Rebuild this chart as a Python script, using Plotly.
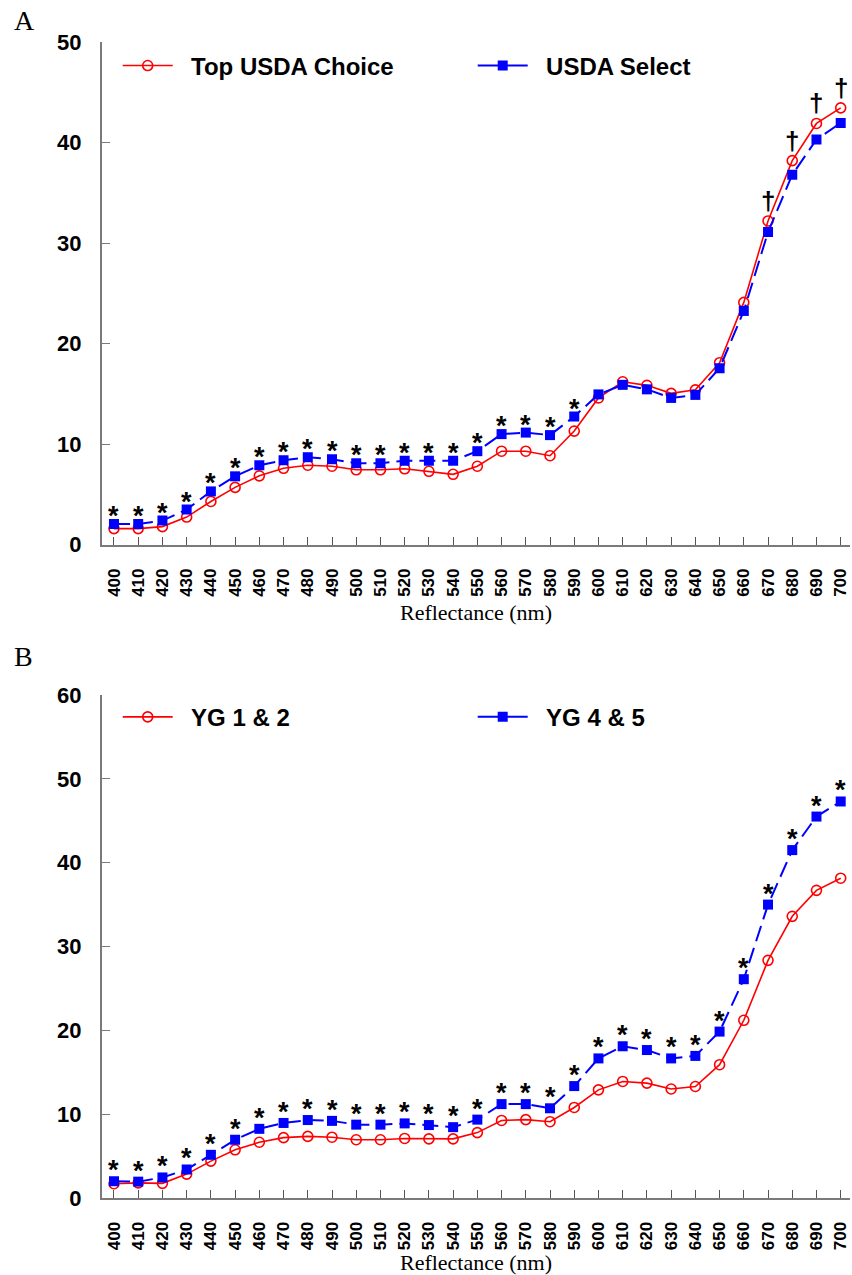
import plotly.graph_objects as go

wavelengths = list(range(400, 701, 10))
x_labels = [str(w) for w in wavelengths]

# Panel A
choice_vals = [1.6, 1.6, 1.8, 2.75, 4.3, 5.7, 6.85, 7.6, 7.9, 7.8, 7.45, 7.45, 7.55, 7.3, 7.0, 7.8,
               9.3, 9.3, 8.85, 11.3, 14.6, 16.2, 15.85, 15.05, 15.4, 18.1, 24.1, 32.2, 38.2, 41.9, 43.45]
select_vals = [2.05, 2.05, 2.4, 3.5, 5.3, 6.8, 7.9, 8.4, 8.7, 8.5, 8.1, 8.1, 8.35, 8.35, 8.35, 9.3,
               11.0, 11.15, 10.9, 12.75, 14.95, 15.9, 15.45, 14.6, 14.9, 17.55, 23.25, 31.1, 36.8, 40.3, 41.95]
# significance marks panel A: '*' above Select (400-590), '†' above Choice (670-700)
a_star_x = list(range(400, 591, 10))
a_dagger_x = [670, 680, 690, 700]

# Panel B
yg12_vals = [1.7, 1.8, 1.75, 2.85, 4.4, 5.75, 6.65, 7.2, 7.35, 7.25, 6.95, 6.95, 7.1, 7.05, 7.05, 7.8,
             9.25, 9.35, 9.1, 10.8, 12.9, 13.9, 13.7, 13.0, 13.3, 15.9, 21.2, 28.35, 33.6, 36.7, 38.15]
yg45_vals = [2.0, 1.95, 2.45, 3.4, 5.15, 6.95, 8.25, 8.95, 9.3, 9.2, 8.75, 8.75, 8.9, 8.7, 8.45, 9.35,
             11.2, 11.2, 10.7, 13.35, 16.65, 18.1, 17.65, 16.65, 16.95, 19.85, 26.1, 35.0, 41.5, 45.5, 47.3]
b_star_x = list(range(400, 701, 10))

y_ticks_a = [0, 10, 20, 30, 40, 50]
y_ticks_b = [0, 10, 20, 30, 40, 50, 60]

RED = "#FF0000"
BLUE = "#0000FF"
AXC = "#7a7a7a"
SANS = "Liberation Sans, Arial, sans-serif"
SERIF = "Liberation Serif, Times New Roman, serif"
GAP = "\u00a0\u00a0"

fig = go.Figure()

red_line = dict(color=RED, width=1.6)
red_marker = dict(symbol="circle-open", size=10, color=RED, line=dict(width=1.6, color=RED))
blue_marker = dict(symbol="square", size=10, color=BLUE)

def add_pair(red_vals, blue_vals, red_name, blue_name, xa, ya, leg):
    fig.add_trace(go.Scatter(
        x=wavelengths, y=red_vals, name=GAP + red_name, mode="lines+markers",
        line=red_line, marker=red_marker, xaxis=xa, yaxis=ya, legend=leg))
    fig.add_trace(go.Scatter(
        x=wavelengths, y=blue_vals, name=GAP + blue_name, mode="lines+markers",
        line=dict(color=BLUE, width=2, dash="16px,7px"), marker=blue_marker,
        xaxis=xa, yaxis=ya, showlegend=False))
    # legend entry for blue series drawn with a solid sample line (no data)
    fig.add_trace(go.Scatter(
        x=[None], y=[None], name=GAP + blue_name, mode="lines+markers",
        line=dict(color=BLUE, width=2), marker=blue_marker,
        xaxis=xa, yaxis=ya, legend=leg, hoverinfo="skip"))

add_pair(choice_vals, select_vals, "Top USDA Choice", "USDA Select", "x", "y", "legend")
add_pair(yg12_vals, yg45_vals, "YG 1 & 2", "YG 4 & 5", "x2", "y2", "legend2")

annotations = []
def add_marks(xs, source, symbol, xref, yref, yshift, size):
    for xv in xs:
        yv = source[wavelengths.index(xv)]
        annotations.append(dict(x=xv, y=yv, xref=xref, yref=yref, text=symbol, showarrow=False,
                                yshift=yshift, yanchor="middle",
                                font=dict(family=SANS, size=size, color="black", weight="bold")))

add_marks(a_star_x, select_vals, "*", "x", "y", 8, 27)
add_marks(a_dagger_x, choice_vals, "†", "x", "y", 20, 26)
add_marks(b_star_x, yg45_vals, "*", "x2", "y2", 11, 27)

# panel letters
annotations.append(dict(text="A", xref="paper", yref="paper", x=-0.12, y=1.0, xanchor="left",
                        yanchor="bottom", showarrow=False, yshift=4,
                        font=dict(family=SERIF, size=28, color="black")))
annotations.append(dict(text="B", xref="paper", yref="paper", x=-0.12, y=(1201 - 641) / 1159,
                        xanchor="left", yanchor="top", showarrow=False,
                        font=dict(family=SERIF, size=28, color="black")))

def x_axis(standoff):
    return dict(
        tickmode="array", tickvals=wavelengths, ticktext=x_labels, tickangle=-90,
        range=[395.05, 703.84], showline=True, linecolor=AXC, linewidth=2,
        ticks="inside", ticklen=8, tickwidth=1.2, tickcolor="#555",
        tickfont=dict(family=SANS, size=17, color="black", weight="bold"),
        ticklabelstandoff=15, showgrid=False, zeroline=False,
        title=dict(text="Reflectance (nm)", font=dict(family=SERIF, size=22, color="black"),
                   standoff=standoff),
    )

y_common = dict(
    showline=True, linecolor=AXC, linewidth=2, ticks="inside", ticklen=8, tickwidth=1.2,
    tickcolor=AXC, tickfont=dict(family=SANS, size=22, color="black", weight="bold"),
    ticklabelstandoff=14, showgrid=False, zeroline=False,
)

legend_common = dict(orientation="h", x=0.021, xanchor="left", yanchor="middle",
                     font=dict(family=SANS, size=24, color="black", weight="bold"),
                     itemwidth=50, entrywidth=290, bgcolor="rgba(0,0,0,0)")

fig.update_layout(
    width=852, height=1275,
    margin=dict(l=102, r=2, t=42, b=74),
    paper_bgcolor="white", plot_bgcolor="white",
    xaxis=dict(anchor="y", domain=[0, 1], **x_axis(9)),
    yaxis=dict(anchor="x", domain=[(1201 - 546) / 1159, 1.0], range=[0, 50],
               tickvals=y_ticks_a, **y_common),
    xaxis2=dict(anchor="y2", domain=[0, 1], **x_axis(7)),
    yaxis2=dict(anchor="x2", domain=[0, (1201 - 696.7) / 1159], range=[0, 60],
                tickvals=y_ticks_b, **y_common),
    legend=dict(y=(1201 - 66) / 1159, **legend_common),
    legend2=dict(y=(1201 - 719) / 1159, **legend_common),
    annotations=annotations,
    showlegend=True,
)

fig.write_html("out.html")
